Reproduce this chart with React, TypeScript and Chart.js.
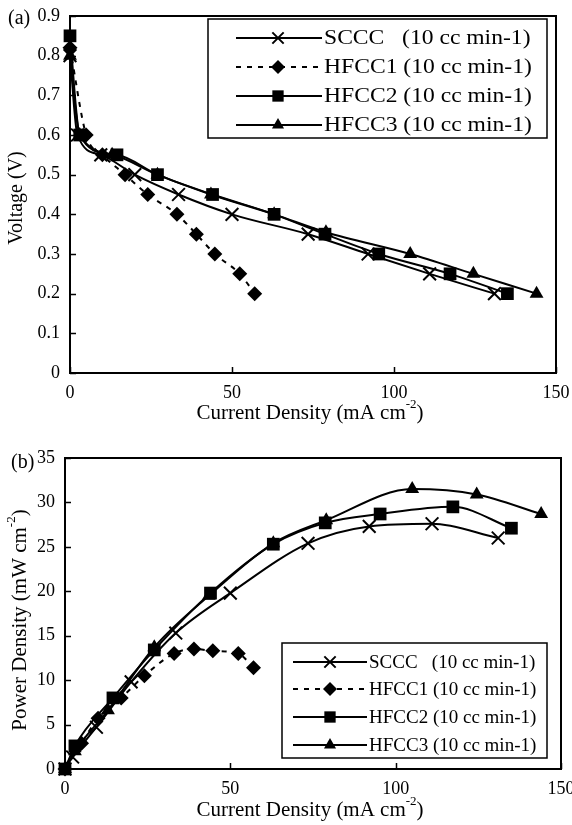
import React, { useEffect, useRef } from 'react';
import { Chart, registerables } from 'chart.js';

Chart.register(...registerables);

// ---------- data ----------
const LEGEND_LABELS = ['SCCC   (10 cc min-1)', 'HFCC1 (10 cc min-1)', 'HFCC2 (10 cc min-1)', 'HFCC3 (10 cc min-1)'];
const MARKERS = ['crossRot', 'rectRot', 'rect', 'triangle'];

// current density (mA cm-2)
const SCCC_I = [0, 2.3, 9.5, 20, 33.5, 50, 73.5, 92, 111, 131];
const HFCC1_I = [0, 5, 10, 17, 24, 33, 39, 44.7, 52.4, 57];
const HFCC2_I = [0, 3, 14.5, 27, 44, 63, 78.7, 95.3, 117.3, 135];
const HFCC3_I = [0, 3, 13, 27, 43.5, 63, 79, 105, 124.5, 144];

// voltage (V)
const SCCC_V = [0.8, 0.6, 0.55, 0.5, 0.45, 0.4, 0.35, 0.3, 0.25, 0.2];
const HFCC1_V = [0.82, 0.6, 0.55, 0.5, 0.45, 0.4, 0.35, 0.3, 0.25, 0.2];
const HFCC2_V = [0.85, 0.6, 0.55, 0.5, 0.45, 0.4, 0.35, 0.3, 0.25, 0.2];
const HFCC3_V = [0.8, 0.6, 0.55, 0.5, 0.45, 0.4, 0.355, 0.3, 0.25, 0.2];

// power density (mW cm-2)
const SCCC_P = [0, 1.35, 4.7, 9.8, 15.3, 19.8, 25.4, 27.3, 27.6, 26.0];
const HFCC1_P = [0, 2.9, 5.7, 8.0, 10.5, 13.0, 13.5, 13.3, 13.0, 11.4];
const HFCC2_P = [0, 2.6, 8.0, 13.4, 19.8, 25.3, 27.7, 28.7, 29.5, 27.1];
const HFCC3_P = [0, 2.0, 6.6, 13.7, 19.5, 25.4, 28.0, 31.5, 30.9, 28.7];

const V_TICKS = [0, 0.1, 0.2, 0.3, 0.4, 0.5, 0.6, 0.7, 0.8, 0.9];
const P_TICKS = [0, 5, 10, 15, 20, 25, 30, 35];
const I_TICKS = [0, 50, 100, 150];

const FONT = '"Liberation Serif", "Times New Roman", serif';

// ---------- helpers ----------
function drawMarker(ctx: CanvasRenderingContext2D, style: string, x: number, y: number, r: number) {
  ctx.save();
  ctx.fillStyle = '#000';
  ctx.strokeStyle = '#000';
  ctx.beginPath();
  if (style === 'crossRot') {
    const d = r * Math.SQRT1_2;
    ctx.lineWidth = 2;
    ctx.moveTo(x - d, y - d); ctx.lineTo(x + d, y + d);
    ctx.moveTo(x - d, y + d); ctx.lineTo(x + d, y - d);
    ctx.stroke();
  } else if (style === 'rectRot') {
    ctx.moveTo(x - r, y); ctx.lineTo(x, y - r); ctx.lineTo(x + r, y); ctx.lineTo(x, y + r);
    ctx.closePath(); ctx.fill();
  } else if (style === 'rect') {
    const s = r * Math.SQRT1_2;
    ctx.rect(x - s, y - s, 2 * s, 2 * s); ctx.fill();
  } else {
    ctx.moveTo(x, y - r);
    ctx.lineTo(x + r * Math.sin(2 * Math.PI / 3), y - r * Math.cos(2 * Math.PI / 3));
    ctx.lineTo(x + r * Math.sin(4 * Math.PI / 3), y - r * Math.cos(4 * Math.PI / 3));
    ctx.closePath(); ctx.fill();
  }
  ctx.restore();
}

function drawSupTitle(ctx: CanvasRenderingContext2D, main: string, sup: string, tail: string,
  cx: number, cy: number, size: number, rotate: boolean) {
  ctx.save();
  ctx.translate(cx, cy);
  if (rotate) ctx.rotate(-Math.PI / 2);
  const big = `${size}px ${FONT}`;
  const small = `${Math.round(size * 0.62)}px ${FONT}`;
  ctx.font = big;
  const w1 = ctx.measureText(main).width;
  const w3 = ctx.measureText(tail).width;
  ctx.font = small;
  const w2 = sup ? ctx.measureText(sup).width : 0;
  const total = w1 + w2 + w3;
  let x = -total / 2;
  ctx.fillStyle = '#000';
  ctx.textBaseline = 'middle';
  ctx.textAlign = 'left';
  ctx.font = big;
  ctx.fillText(main, x, 0);
  x += w1;
  if (sup) {
    ctx.font = small;
    ctx.fillText(sup, x, -size * 0.38);
    x += w2;
  }
  ctx.font = big;
  ctx.fillText(tail, x, 0);
  ctx.restore();
}

type Decor = {
  panel: string; panelX: number; panelY: number;
  xTitle: [string, string, string]; xTitleX: number; xTitleY: number; xTitleSize: number;
  yTitle: [string, string, string]; yTitleX: number; yTitleY: number; yTitleSize: number;
  legend: { left: number; top: number; right: number; bottom: number; rows: number[];
    lx1: number; lx2: number; mx: number; tx: number; size: number; stretch: number; };
};

function makeDecor(d: Decor) {
  return {
    id: 'decor',
    afterDraw(chart: any) {
      const { ctx, chartArea: a, scales } = chart;
      ctx.save();
      ctx.strokeStyle = '#000';
      ctx.lineWidth = 2;
      ctx.strokeRect(a.left, a.top, a.right - a.left, a.bottom - a.top);
      // inward ticks
      ctx.lineWidth = 1.5;
      ctx.beginPath();
      scales.y.ticks.forEach((t: any) => {
        const p = Math.round(scales.y.getPixelForValue(t.value)) + 0.5;
        ctx.moveTo(a.left, p); ctx.lineTo(a.left + 6, p);
      });
      scales.x.ticks.forEach((t: any) => {
        const p = Math.round(scales.x.getPixelForValue(t.value)) + 0.5;
        ctx.moveTo(p, a.bottom); ctx.lineTo(p, a.bottom - 6);
      });
      ctx.stroke();

      // panel label
      ctx.fillStyle = '#000';
      ctx.font = `20px ${FONT}`;
      ctx.textBaseline = 'middle';
      ctx.textAlign = 'left';
      ctx.fillText(d.panel, d.panelX, d.panelY);

      drawSupTitle(ctx, d.xTitle[0], d.xTitle[1], d.xTitle[2], d.xTitleX, d.xTitleY, d.xTitleSize, false);
      drawSupTitle(ctx, d.yTitle[0], d.yTitle[1], d.yTitle[2], d.yTitleX, d.yTitleY, d.yTitleSize, true);

      // legend
      const L = d.legend;
      ctx.fillStyle = '#fff';
      ctx.fillRect(L.left, L.top, L.right - L.left, L.bottom - L.top);
      ctx.strokeStyle = '#000';
      ctx.lineWidth = 1.5;
      ctx.strokeRect(L.left, L.top, L.right - L.left, L.bottom - L.top);
      chart.data.datasets.forEach((ds: any, i: number) => {
        const y = L.rows[i];
        ctx.save();
        ctx.strokeStyle = '#000';
        ctx.lineWidth = 2;
        ctx.setLineDash(ds.borderDash || []);
        ctx.beginPath();
        ctx.moveTo(L.lx1, y); ctx.lineTo(L.lx2, y);
        ctx.stroke();
        ctx.restore();
        drawMarker(ctx, ds.pointStyle, L.mx, y, ds.pointStyle === 'rect' ? 8 : ds.pointStyle === 'crossRot' ? 8 : 7);
        ctx.save();
        ctx.translate(L.tx, y);
        ctx.scale(L.stretch, 1);
        ctx.fillStyle = '#000';
        ctx.font = `${L.size}px ${FONT}`;
        ctx.textBaseline = 'middle';
        ctx.textAlign = 'left';
        ctx.fillText(ds.label, 0, 1);
        ctx.restore();
      });
      ctx.restore();
    },
  };
}

function dataset(i: number, xs: number[], ys: number[]) {
  const style = MARKERS[i];
  const radius = style === 'rect' ? 9 : style === 'crossRot' ? 9 : style === 'rectRot' ? 7.5 : 8;
  return {
    label: LEGEND_LABELS[i],
    data: xs.map((x, k) => ({ x, y: ys[k] })),
    borderColor: '#000',
    backgroundColor: '#000',
    borderWidth: 2,
    borderDash: i === 1 ? [5, 6] : [],
    pointStyle: style,
    pointRadius: radius,
    pointHoverRadius: radius,
    pointBorderWidth: style === 'crossRot' ? 2 : 0,
    pointBorderColor: '#000',
    pointBackgroundColor: '#000',
    tension: 0.35,
    cubicInterpolationMode: 'monotone',
    clip: false,
    fill: false,
  };
}

function axes(yMax: number, yStep: number, yTicks: number[], yWidth: number, xHeight: number, fmtY: (v: number) => string) {
  return {
    x: {
      type: 'linear', min: 0, max: 150,
      grid: { display: false, drawTicks: false },
      border: { display: false },
      afterBuildTicks: (s: any) => { s.ticks = I_TICKS.map((v) => ({ value: v })); },
      ticks: { font: { family: FONT, size: 18 }, color: '#000', padding: 9, maxRotation: 0, callback: (v: any) => String(v) },
      afterFit: (s: any) => { s.height = xHeight; s.paddingLeft = 0; s.paddingRight = 0; },
    },
    y: {
      type: 'linear', min: 0, max: yMax,
      grid: { display: false, drawTicks: false },
      border: { display: false },
      afterBuildTicks: (s: any) => { s.ticks = yTicks.map((v) => ({ value: v })); },
      ticks: { font: { family: FONT, size: 18 }, color: '#000', padding: 10, stepSize: yStep, callback: (v: any) => fmtY(Number(v)) },
      afterFit: (s: any) => { s.width = yWidth; s.paddingTop = 0; s.paddingBottom = 0; },
    },
  };
}

function useChart(ref: React.RefObject<HTMLCanvasElement>, build: () => any) {
  useEffect(() => {
    if (!ref.current) return;
    const chart = new Chart(ref.current, build());
    return () => chart.destroy();
  }, []);
}

export default function App() {
  const topRef = useRef<HTMLCanvasElement>(null);
  const botRef = useRef<HTMLCanvasElement>(null);

  useChart(topRef, () => ({
    type: 'line',
    data: {
      datasets: [
        dataset(0, SCCC_I, SCCC_V),
        dataset(1, HFCC1_I, HFCC1_V),
        dataset(2, HFCC2_I, HFCC2_V),
        dataset(3, HFCC3_I, HFCC3_V),
      ],
    },
    options: {
      animation: false,
      responsive: true,
      maintainAspectRatio: false,
      layout: { padding: { left: 20, right: 16, top: 16, bottom: 22 } },
      plugins: { legend: { display: false }, tooltip: { enabled: false } },
      scales: axes(0.9, 0.1, V_TICKS, 50, 30, (v) => (v === 0 ? '0' : v.toFixed(1))),
    },
    plugins: [makeDecor({
      panel: '(a)', panelX: 8, panelY: 19,
      xTitle: ['Current Density (mA cm', '-2', ')'], xTitleX: 310, xTitleY: 413, xTitleSize: 21,
      yTitle: ['Voltage (V)', '', ''], yTitleX: 17, yTitleY: 198, yTitleSize: 20,
      legend: { left: 208, top: 19, right: 547, bottom: 138, rows: [38, 67, 96, 125],
        lx1: 236, lx2: 322, mx: 278, tx: 324, size: 20, stretch: 1.18 },
    })],
  }));

  useChart(botRef, () => ({
    type: 'line',
    data: {
      datasets: [
        dataset(0, SCCC_I, SCCC_P),
        dataset(1, HFCC1_I, HFCC1_P),
        dataset(2, HFCC2_I, HFCC2_P),
        dataset(3, HFCC3_I, HFCC3_P),
      ],
    },
    options: {
      animation: false,
      responsive: true,
      maintainAspectRatio: false,
      layout: { padding: { left: 20, right: 9, top: 33, bottom: 26 } },
      plugins: { legend: { display: false }, tooltip: { enabled: false } },
      scales: axes(35, 5, P_TICKS, 45, 30, (v) => String(v)),
    },
    plugins: [makeDecor({
      panel: '(b)', panelX: 11, panelY: 38,
      xTitle: ['Current Density (mA cm', '-2', ')'], xTitleX: 310, xTitleY: 385, xTitleSize: 21,
      yTitle: ['Power Density (mW cm', '-2', ')'], yTitleX: 20, yTitleY: 195, yTitleSize: 21,
      legend: { left: 282, top: 218, right: 547, bottom: 333, rows: [237, 264, 292, 320],
        lx1: 293, lx2: 367, mx: 330, tx: 369, size: 19, stretch: 1 },
    })],
  }));

  return (
    <div style={{ position: 'absolute', left: 0, top: 0, width: 572, height: 825, background: '#fff' }}>
      <div style={{ position: 'absolute', left: 0, top: 0, width: 572, height: 425 }}>
        <canvas ref={topRef} />
      </div>
      <div style={{ position: 'absolute', left: 0, top: 425, width: 572, height: 400 }}>
        <canvas ref={botRef} />
      </div>
    </div>
  );
}
